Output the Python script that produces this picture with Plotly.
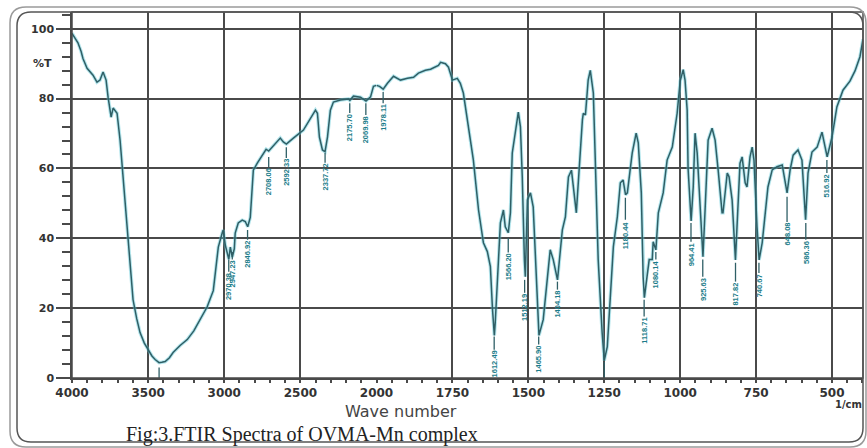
import plotly.graph_objects as go

# ---------------- data ----------------
wn_hi = [4000, 3980, 3961, 3940, 3928, 3901, 3880, 3862, 3836, 3816, 3796, 3786, 3776, 3763, 3743,
         3730, 3715, 3704, 3684, 3665, 3650, 3630, 3615, 3599, 3575, 3553, 3525, 3500, 3475, 3454,
         3428, 3410, 3388, 3360, 3336, 3290, 3243, 3200, 3158, 3112, 3072, 3039, 3013, 3007, 2993,
         2975, 2970, 2960, 2947, 2934, 2928, 2908, 2882, 2862, 2846, 2829, 2809, 2783, 2750, 2725,
         2708, 2684, 2632, 2612, 2592, 2546, 2480, 2401, 2388, 2375, 2355, 2338, 2322, 2303, 2283,
         2237, 2184, 2175, 2151, 2105, 2069, 2039, 2020, 2000]
t_hi = [98.7, 97.3, 96.0, 93.5, 91.5, 88.7, 87.5, 86.7, 84.7, 85.3, 87.6, 86.5, 85.3, 80.4, 74.7,
        77.3, 76.5, 75.8, 68.0, 58.0, 51.0, 40.0, 31.0, 22.4, 17.0, 13.0, 10.0, 8.0, 6.3, 5.3,
        4.4, 4.5, 4.7, 5.8, 7.3, 9.3, 11.0, 13.5, 16.7, 20.4, 25.0, 37.5, 41.6, 42.4, 38.0,
        34.5, 34.0, 37.5, 34.6, 37.0, 41.5, 44.4, 45.2, 44.8, 43.3, 46.0, 59.5, 61.5, 63.8, 65.5,
        65.0, 66.1, 68.7, 67.6, 67.0, 68.7, 71.0, 76.7, 75.8, 69.0, 65.3, 64.8, 69.0, 76.7, 79.0,
        79.6, 79.9, 79.5, 80.7, 80.4, 79.3, 80.5, 83.5, 83.8]

wn_lo = [2000, 1990, 1978, 1964, 1944, 1921, 1898, 1878, 1862, 1839, 1822, 1796, 1789, 1773, 1763,
         1757, 1750, 1734, 1724, 1714, 1697, 1681, 1664, 1648, 1635, 1625, 1618, 1612, 1609, 1599,
         1592, 1582, 1576, 1566, 1559, 1553, 1543, 1533, 1526, 1520, 1513, 1510, 1503, 1493, 1484,
         1477, 1467, 1465, 1451, 1438, 1428, 1418, 1404, 1388, 1378, 1368, 1358, 1342, 1332, 1322,
         1319, 1312, 1303, 1296, 1286, 1280, 1270, 1257, 1250, 1240, 1230, 1220, 1207, 1197, 1188,
         1180, 1174, 1158, 1145, 1138, 1128, 1122, 1118, 1109, 1102, 1092, 1089, 1080, 1072, 1056,
         1043, 1026, 1010, 1000, 990, 984, 977, 974, 967, 964, 957, 951, 944, 934, 925,
         918, 908, 895, 885, 875, 862, 859, 845, 839, 829, 818, 812, 803, 796, 786,
         780, 770, 763, 757, 747, 740, 730, 720, 711, 697, 681, 664, 655, 648, 638,
         628, 612, 599, 587, 579, 566, 549, 533, 516, 500, 484, 464, 441, 424, 408, 398]
t_lo = [83.8, 83.5, 82.7, 84.4, 86.4, 85.3, 85.8, 86.1, 87.3, 88.1, 88.4, 89.5, 90.4, 90.0, 89.0,
        87.3, 85.3, 85.8, 84.4, 81.6, 72.0, 62.4, 48.1, 38.7, 36.2, 31.9, 19.6, 12.2, 15.9, 33.9,
        44.4, 48.1, 43.3, 41.6, 47.3, 64.4, 70.1, 76.1, 71.9, 57.6, 33.9, 29.0, 51.0, 53.0, 49.0,
        33.9, 16.7, 12.2, 16.7, 29.0, 36.7, 33.9, 28.1, 42.4, 46.1, 57.6, 59.5, 47.3, 62.0, 73.9,
        75.8, 75.3, 85.3, 88.1, 81.6, 62.4, 33.9, 13.0, 5.0, 9.0, 22.4, 37.6, 46.1, 55.9, 56.7,
        52.5, 53.0, 64.4, 70.1, 67.3, 53.0, 29.0, 23.0, 30.1, 33.9, 33.9, 39.0, 36.7, 47.3, 53.0,
        62.4, 66.1, 75.8, 85.0, 88.3, 85.3, 76.7, 60.0, 47.0, 45.0, 54.7, 70.1, 64.4, 48.1, 34.7,
        48.1, 68.1, 71.5, 68.1, 59.6, 47.3, 47.3, 58.7, 57.6, 51.0, 33.8, 45.3, 61.5, 63.3, 55.9,
        54.7, 63.3, 66.1, 62.4, 43.3, 33.8, 38.7, 48.1, 54.7, 59.6, 60.5, 61.0, 55.9, 53.0, 59.6,
        63.8, 65.3, 62.4, 45.3, 58.7, 64.7, 66.1, 70.4, 63.3, 69.0, 77.6, 82.4, 85.0, 88.0, 92.0, 97.0]

# peak labels: wavenumber, tick top (%T), text top (%T)
peak_wn = [2970.38, 2947.23, 2846.92, 2708.06, 2592.33, 2337.72, 2175.70, 2069.98, 1978.11,
           1612.49, 1566.20, 1512.19, 1465.90, 1404.18, 1180.44, 1118.71, 1080.14,
           964.41, 925.63, 817.82, 740.67, 648.08, 586.36, 516.92]
peak_tick_top = [33.9, 36.1, 42.4, 63.3, 66.1, 64.4, 78.7, 78.7, 81.9,
                 11.9, 40.1, 28.1, 11.9, 27.6, 51.6, 22.4, 36.1,
                 44.4, 33.9, 33.0, 33.0, 51.9, 44.4, 62.4]
peak_text_top = [30.4, 33.9, 39.6, 60.4, 63.0, 61.6, 75.9, 75.3, 78.7,
                 8.1, 35.9, 24.4, 9.6, 25.3, 45.3, 17.6, 33.9,
                 39.0, 29.0, 27.6, 30.1, 44.7, 39.6, 58.7]
# peaks whose labels are clipped at the axis (tick only)
clip_wn = [3428, 1250]
clip_top = [3.0, 4.6]

x_ticks_hi = [4000, 3500, 3000, 2500, 2000]
x_ticks_lo = [1750, 1500, 1250, 1000, 750, 500]
y_ticks = [0, 20, 40, 60, 80, 100]

# ---------------- layout constants ----------------
W, H = 867, 448
ML, MR, MT, MB = 72, 4, 12, 70
PW = W - ML - MR
PH = H - MT - MB
SPLIT = 304.5 / PW
LINE = "#2f5f66"
LBL = "#1b7d8a"
GRID = "#4a4a4a"

def px(x):
    return (x - ML) / PW

def py(y):
    return (H - MB - y) / PH

fig = go.Figure()
for xs, ys, ax in [(wn_hi, t_hi, "x"), (wn_lo, t_lo, "x2")]:
    fig.add_trace(go.Scatter(x=xs, y=ys, xaxis=ax, yaxis="y", mode="lines",
                             line=dict(color="rgba(90,200,215,0.45)", width=3.5),
                             hoverinfo="skip", showlegend=False))
    fig.add_trace(go.Scatter(x=xs, y=ys, xaxis=ax, yaxis="y", mode="lines",
                             line=dict(color=LINE, width=1.5), showlegend=False))

shapes = []
annotations = []
for w, a, b in zip(peak_wn, peak_tick_top, peak_text_top):
    ref = "x" if w >= 2000 else "x2"
    shapes.append(dict(type="line", xref=ref, yref="y", x0=w, x1=w, y0=a, y1=b,
                       line=dict(color=LINE, width=1.3)))
    annotations.append(dict(xref=ref, yref="y", x=w, y=b, text=f"<b>{w:.2f}</b>",
                            showarrow=False, textangle=-90, xanchor="center",
                            yanchor="top", borderpad=0,
                            font=dict(family="Liberation Sans", size=7.5, color=LBL)))
for w, a in zip(clip_wn, clip_top):
    ref = "x" if w >= 2000 else "x2"
    shapes.append(dict(type="line", xref=ref, yref="y", x0=w, x1=w, y0=a, y1=0,
                       line=dict(color=LINE, width=1.3)))

# plot border
shapes.append(dict(type="rect", xref="paper", yref="paper", x0=0, x1=1, y0=0, y1=1,
                   line=dict(color=GRID, width=1.5)))

# rounded frames
def rounded(x0, y0, x1, y1, r):
    X = lambda v: px(v)
    Y = lambda v: py(v)
    return (f"M {X(x0+r)},{Y(y0)} L {X(x1-r)},{Y(y0)} "
            f"Q {X(x1)},{Y(y0)} {X(x1)},{Y(y0+r)} L {X(x1)},{Y(y1-r)} "
            f"Q {X(x1)},{Y(y1)} {X(x1-r)},{Y(y1)} L {X(x0+r)},{Y(y1)} "
            f"Q {X(x0)},{Y(y1)} {X(x0)},{Y(y1-r)} L {X(x0)},{Y(y0+r)} "
            f"Q {X(x0)},{Y(y0)} {X(x0+r)},{Y(y0)} Z")

shapes.append(dict(type="path", xref="paper", yref="paper", path=rounded(10, 7, 866, 447, 16),
                   line=dict(color="#9a9a9a", width=1.5)))
shapes.append(dict(type="path", xref="paper", yref="paper", path=rounded(17, 12, 863, 442, 14),
                   line=dict(color="#555555", width=1.5)))

annotations += [
    dict(xref="paper", yref="paper", x=px(42), y=py(63), text="<b>%T</b>", showarrow=False,
         font=dict(family="DejaVu Sans", size=11, color="#333"), xanchor="center", yanchor="middle"),
    dict(xref="paper", yref="paper", x=px(401), y=py(411), text="Wave number", showarrow=False,
         font=dict(family="DejaVu Sans", size=16, color="#444"), xanchor="center", yanchor="middle"),
    dict(xref="paper", yref="paper", x=px(848), y=py(404), text="<b>1/cm</b>", showarrow=False,
         font=dict(family="DejaVu Sans", size=10, color="#333"), xanchor="center", yanchor="middle"),
    dict(xref="paper", yref="paper", x=px(124), y=py(434), text="Fig:3.FTIR Spectra of OVMA-Mn complex",
         showarrow=False, font=dict(family="Liberation Serif", size=20, color="#222"),
         xanchor="left", yanchor="middle"),
]

tickfont = dict(family="DejaVu Sans", size=12, color="#333")
fig.update_layout(
    width=W, height=H, autosize=False,
    margin=dict(l=ML, r=MR, t=MT, b=MB, pad=0, autoexpand=False),
    paper_bgcolor="white", plot_bgcolor="white", showlegend=False,
    xaxis=dict(domain=[0, SPLIT], range=[4000, 2000], anchor="y", automargin=False,
               tickmode="array", tickvals=x_ticks_hi, ticktext=[f"<b>{v}</b>" for v in x_ticks_hi],
               ticks="outside", ticklen=3, tickwidth=1.5, tickcolor=GRID,
               showgrid=True, gridcolor=GRID, gridwidth=1.5,
               showline=True, linecolor=GRID, linewidth=1.5, zeroline=False,
               tickfont=tickfont,
               minor=dict(tick0=0, dtick=100, ticks="outside", ticklen=3, tickcolor=GRID, showgrid=False)),
    xaxis2=dict(domain=[SPLIT, 1], range=[2000, 398], anchor="y", automargin=False,
                tickmode="array", tickvals=x_ticks_lo, ticktext=[f"<b>{v}</b>" for v in x_ticks_lo],
                ticks="outside", ticklen=3, tickwidth=1.5, tickcolor=GRID,
                showgrid=True, gridcolor=GRID, gridwidth=1.5,
                showline=True, linecolor=GRID, linewidth=1.5, zeroline=False,
                tickfont=tickfont,
                minor=dict(tick0=0, dtick=50, ticks="outside", ticklen=3, tickcolor=GRID, showgrid=False)),
    yaxis=dict(domain=[0, 1], range=[0, 104.8], anchor="x", automargin=False,
               tickmode="array", tickvals=y_ticks, ticktext=[f"<b>{v}</b>" for v in y_ticks],
               ticks="outside", ticklen=14, tickwidth=1.5, tickcolor=GRID,
               showgrid=True, gridcolor=GRID, gridwidth=1.5,
               showline=True, linecolor=GRID, linewidth=1.5, zeroline=False,
               tickfont=dict(family="DejaVu Sans", size=11, color="#333"),
               minor=dict(tick0=0, dtick=4, ticks="outside", ticklen=8, tickcolor=GRID, showgrid=False)),
    shapes=shapes, annotations=annotations,
)

fig.write_html("out.html")
